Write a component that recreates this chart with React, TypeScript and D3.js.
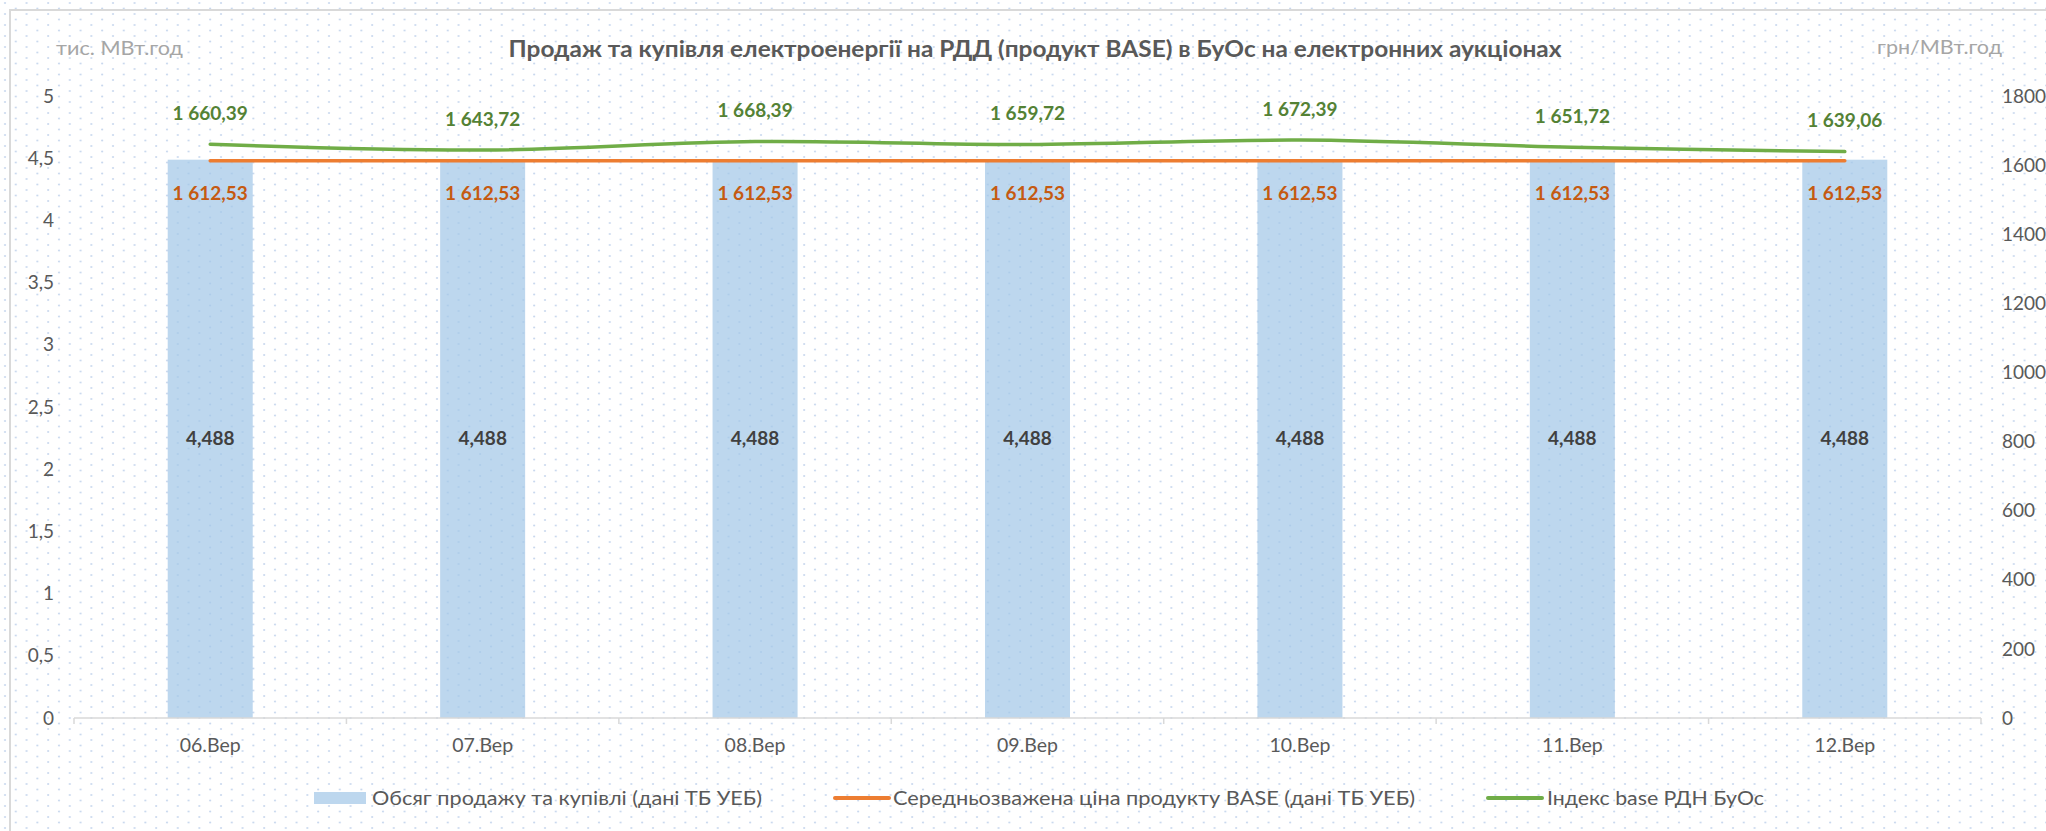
import React from 'react';
import * as d3 from 'd3';

// дані з графіка
const days = ['06.Вер', '07.Вер', '08.Вер', '09.Вер', '10.Вер', '11.Вер', '12.Вер'];
const volume = [4.488, 4.488, 4.488, 4.488, 4.488, 4.488, 4.488];
const avgPrice = [1612.53, 1612.53, 1612.53, 1612.53, 1612.53, 1612.53, 1612.53];
const indexBase = [1660.39, 1643.72, 1668.39, 1659.72, 1672.39, 1651.72, 1639.06];
const leftTicks = [0, 0.5, 1, 1.5, 2, 2.5, 3, 3.5, 4, 4.5, 5];
const rightTicks = [0, 200, 400, 600, 800, 1000, 1200, 1400, 1600, 1800];
const legendNames = [
    'Обсяг продажу та купівлі (дані ТБ УЕБ)',
    'Середньозважена ціна продукту BASE (дані ТБ УЕБ)',
    'Індекс base РДН БуОс'
];
const title = 'Продаж та купівля електроенергії на РДД (продукт BASE) в БуОс на електронних аукціонах';

const W = 2046, H = 831;
const margin = {left: 74, right: 65, top: 96, bottom: 113};
const font = 'Lato, "Open Sans", sans-serif';

const ua = d3.formatLocale({decimal: ',', thousands: ' ', grouping: [3], currency: ['', ' грн']});
const fmtPrice = ua.format(',.2f');
const fmtVol = ua.format('.3f');
const fmtLeft = ua.format('.1~f');

export default function App() {
    const x = d3.scaleBand()
        .domain(days)
        .range([margin.left, W - margin.right])
        .paddingInner(0.688)
        .paddingOuter(0.344);
    const yL = d3.scaleLinear().domain([0, 5]).range([H - margin.bottom, margin.top]);
    const yR = d3.scaleLinear().domain([0, 1800]).range([H - margin.bottom, margin.top]);
    const cx = (d: string) => (x(d) as number) + x.bandwidth() / 2;
    const step = x.step();
    const x0 = x.range()[0];

    const line = d3.line<number>()
        .x((d, i) => cx(days[i]))
        .y(d => yR(d))
        .curve(d3.curveCatmullRom);

    const baseY = yL(0);
    const boundaries = d3.range(days.length + 1).map(i => x0 + i * step);

    // легенда
    const legend = [
        {x: 314, w: 52, tx: 372, tw: 390, type: 'bar', color: '#bdd7ee'},
        {x: 835, w: 54, tx: 893, tw: 522, type: 'line', color: '#ed7d31'},
        {x: 1488, w: 54, tx: 1547, tw: 217, type: 'line', color: '#70ad47'}
    ];

    return (
        <svg width={W} height={H} style={{position: 'absolute', left: 0, top: 0}}
             fontFamily={font}>
            <defs>
                <pattern id="dots" width={21.6} height={11} patternUnits="userSpaceOnUse">
                    <circle cx={5} cy={3} r={1.1} fill="#c9d8ee"/>
                    <circle cx={15.8} cy={8.5} r={1.1} fill="#c9d8ee"/>
                </pattern>
            </defs>
            <rect width={W} height={H} fill="#fff"/>
            <rect width={W} height={H} fill="url(#dots)"/>
            {/* рамка */}
            <path d={`M10,${H + 5}V10H${W + 5}`} fill="none" stroke="#d9d9d9" strokeWidth={2}/>

            <text x={1035} y={57} textAnchor="middle" fontSize={22} fontWeight="bold" fill="#595959"
                  textLength={1053} lengthAdjust="spacingAndGlyphs">{title}</text>
            <text x={56} y={55} fontSize={19} fill="#a6a6a6" textLength={127}
                  lengthAdjust="spacingAndGlyphs">тис. МВт.год</text>
            <text x={2002} y={54} fontSize={19} fill="#a6a6a6" textAnchor="end" textLength={125}
                  lengthAdjust="spacingAndGlyphs">грн/МВт.год</text>

            {/* осі */}
            {leftTicks.map(t => (
                <text key={'l' + t} x={54} y={yL(t)} dy="0.35em" textAnchor="end" fontSize={19}
                      fill="#595959">{fmtLeft(t)}</text>
            ))}
            {rightTicks.map(t => (
                <text key={'r' + t} x={2002} y={yR(t)} dy="0.35em" fontSize={19}
                      fill="#595959">{t}</text>
            ))}

            {/* стовпчики */}
            {volume.map((v, i) => (
                <rect key={'b' + i} x={x(days[i])} y={yL(v)} width={x.bandwidth()}
                      height={baseY - yL(v)} fill="#a3c7e7" fillOpacity={0.72}/>
            ))}

            <line x1={x0} x2={x.range()[1]} y1={baseY} y2={baseY} stroke="#d9d9d9" strokeWidth={1.5}/>
            {boundaries.map((b, i) => (
                <line key={'t' + i} x1={b} x2={b} y1={baseY} y2={baseY + 6} stroke="#d9d9d9"
                      strokeWidth={1.5}/>
            ))}
            {days.map(d => (
                <text key={d} x={cx(d)} y={752} textAnchor="middle" fontSize={19.5}
                      fill="#595959">{d}</text>
            ))}

            <path d={line(avgPrice) || ''} fill="none" stroke="#ed7d31" strokeWidth={3.5}
                  strokeLinecap="round"/>
            <path d={line(indexBase) || ''} fill="none" stroke="#70ad47" strokeWidth={3.5}
                  strokeLinecap="round"/>

            {/* підписи даних */}
            {volume.map((v, i) => (
                <text key={'vl' + i} x={cx(days[i])} y={(yL(v) + baseY) / 2} dy="0.35em"
                      textAnchor="middle" fontSize={19} fontWeight="bold" fill="#404040">{fmtVol(v)}</text>
            ))}
            {avgPrice.map((v, i) => (
                <text key={'al' + i} x={cx(days[i])} y={yR(v) + 33} dy="0.35em"
                      textAnchor="middle" fontSize={19} fontWeight="bold" fill="#c55a11">{fmtPrice(v)}</text>
            ))}
            {indexBase.map((v, i) => (
                <text key={'il' + i} x={cx(days[i])} y={yR(v) - 31} dy="0.35em"
                      textAnchor="middle" fontSize={19} fontWeight="bold" fill="#548235">{fmtPrice(v)}</text>
            ))}

            {/* легенда */}
            {legend.map((l, i) => (
                <g key={'lg' + i}>
                    {l.type === 'bar'
                        ? <rect x={l.x} y={792} width={l.w} height={12} fill={l.color}/>
                        : <line x1={l.x} x2={l.x + l.w} y1={798} y2={798} stroke={l.color} strokeWidth={4}
                                strokeLinecap="round"/>}
                    <text x={l.tx} y={805} fontSize={19.5} fill="#595959" textLength={l.tw}
                          lengthAdjust="spacingAndGlyphs">{legendNames[i]}</text>
                </g>
            ))}
        </svg>
    );
}
